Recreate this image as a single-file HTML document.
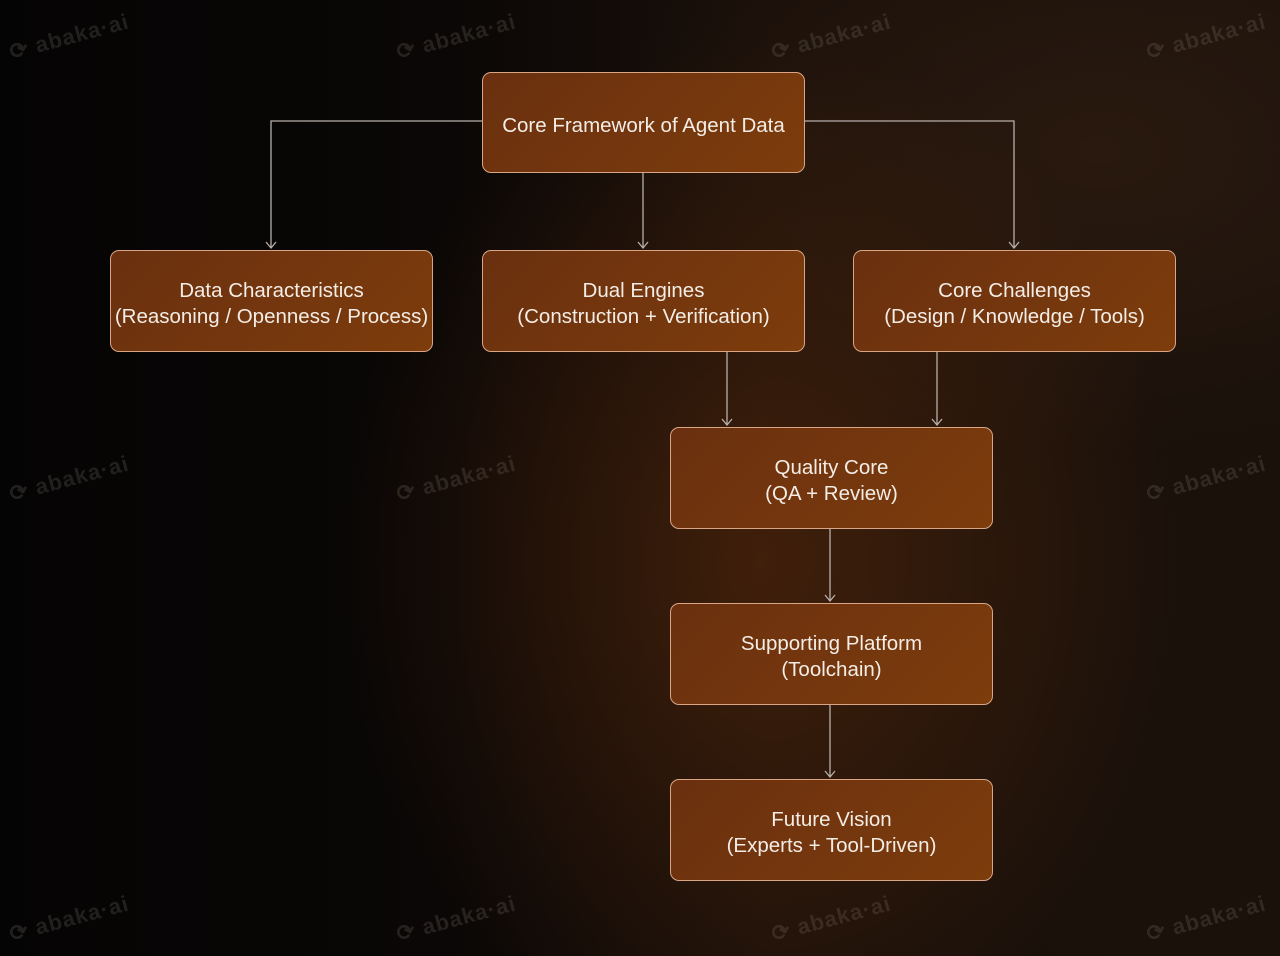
<!DOCTYPE html>
<html><head><meta charset="utf-8"><style>
html,body{margin:0;padding:0}
body{width:1280px;height:956px;overflow:hidden;position:relative;font-family:"Liberation Sans",sans-serif;
background:
radial-gradient(ellipse 420px 520px at 760px 560px,rgba(110,50,12,0.45),rgba(0,0,0,0) 100%),
radial-gradient(ellipse 500px 300px at 1100px 150px,rgba(60,36,20,0.45),rgba(0,0,0,0) 100%),
linear-gradient(90deg,#050404 0%,#0a0706 35%,#1a100a 60%,#1a110b 100%);}
.b{position:absolute;box-sizing:border-box;border:1.5px solid #d9a585;border-radius:9px;padding-top:6px;
background:linear-gradient(135deg,#6a300f,#7d3c0c);color:#f4ede6;font-size:20.5px;line-height:26px;
display:flex;align-items:center;justify-content:center;text-align:center;}
.w{position:absolute;color:rgba(150,140,130,0.2);font-size:22px;transform:rotate(-15deg);letter-spacing:1px;font-weight:bold}
svg{position:absolute;left:0;top:0}
</style></head><body>
<div class="w" style="left:8px;top:24px">⟳ abaka·ai</div>
<div class="w" style="left:395px;top:24px">⟳ abaka·ai</div>
<div class="w" style="left:770px;top:24px">⟳ abaka·ai</div>
<div class="w" style="left:1145px;top:24px">⟳ abaka·ai</div>
<div class="w" style="left:8px;top:466px">⟳ abaka·ai</div>
<div class="w" style="left:395px;top:466px">⟳ abaka·ai</div>
<div class="w" style="left:1145px;top:466px">⟳ abaka·ai</div>
<div class="w" style="left:8px;top:906px">⟳ abaka·ai</div>
<div class="w" style="left:395px;top:906px">⟳ abaka·ai</div>
<div class="w" style="left:770px;top:906px">⟳ abaka·ai</div>
<div class="w" style="left:1145px;top:906px">⟳ abaka·ai</div>
<svg width="1280" height="956" fill="none" stroke="#b8b0aa" stroke-width="1.3">
<path d="M482 121H271V248M805 121H1014V248M643 173V248M727 351V425M937 351V425M830 528V601M830 704V777"/>
<path d="M266 242L271 248L276 242M1009 242L1014 248L1019 242M638 242L643 248L648 242M722 419L727 425L732 419M932 419L937 425L942 419M825 595L830 601L835 595M825 771L830 777L835 771"/>
</svg>
<div class="b" style="left:482px;top:72px;width:323px;height:101px">Core Framework of Agent Data</div>
<div class="b" style="left:110px;top:250px;width:323px;height:102px">Data Characteristics<br>(Reasoning / Openness / Process)</div>
<div class="b" style="left:482px;top:250px;width:323px;height:102px">Dual Engines<br>(Construction + Verification)</div>
<div class="b" style="left:853px;top:250px;width:323px;height:102px">Core Challenges<br>(Design / Knowledge / Tools)</div>
<div class="b" style="left:670px;top:427px;width:323px;height:102px">Quality Core<br>(QA + Review)</div>
<div class="b" style="left:670px;top:603px;width:323px;height:102px">Supporting Platform<br>(Toolchain)</div>
<div class="b" style="left:670px;top:779px;width:323px;height:102px">Future Vision<br>(Experts + Tool-Driven)</div>
</body></html>
